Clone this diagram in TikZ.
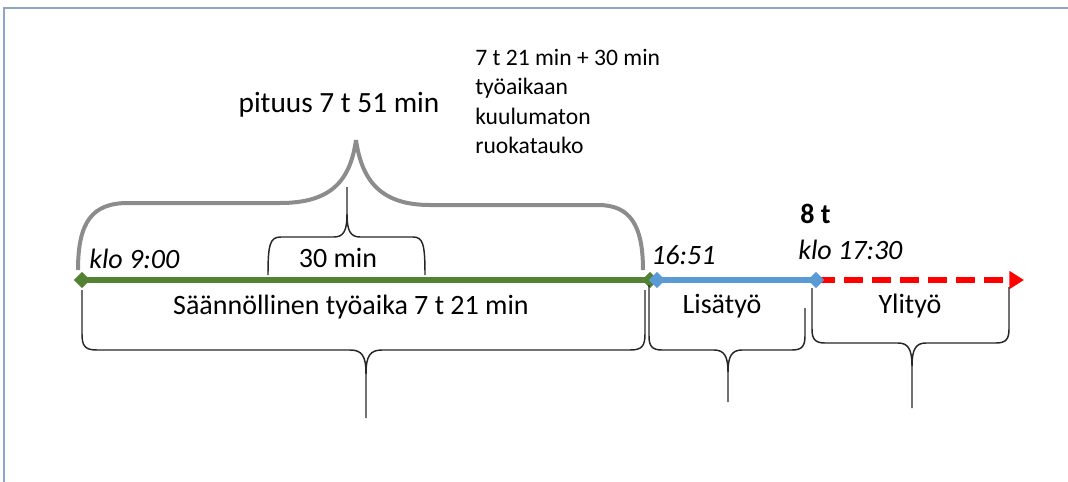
\documentclass[tikz,border=0pt]{standalone}
\usepackage{fontspec}
\setmainfont{Carlito}
\usetikzlibrary{shapes.geometric,arrows.meta}
\definecolor{frameblue}{HTML}{8EA6C6}
\definecolor{lgreen}{HTML}{548235}
\definecolor{lblue}{HTML}{5B9BD5}
\definecolor{bgray}{HTML}{8C8C8C}
\tikzset{
  brace/.style={draw=black!85, line width=1.1pt},
  gbrace/.style={draw=bgray, line width=3pt},
  lbl/.style={font=\fontsize{21}{24}\selectfont, inner sep=0pt},
  tlbl/.style={font=\fontsize{21}{24}\selectfont\itshape, inner sep=0pt},
  dia/.style={diamond, inner sep=0pt, minimum size=12.5pt},
}
\begin{document}
\begin{tikzpicture}[x=0.75pt,y=-0.75pt]
\useasboundingbox (0,0) rectangle (1068,482);
\draw[frameblue, line width=0.8pt] (4,482) -- (4,8) -- (1068,8);

% timeline points
\coordinate (a) at (82,280);
\coordinate (b) at (650,280);
\coordinate (c) at (657,280);
\coordinate (d) at (816,280);
\coordinate (e) at (1024,280);

\draw[lgreen, line width=3.8pt] (a) -- (b);
\draw[lblue, line width=3.8pt] (c) -- (d);
\draw[red, line width=3.8pt, dash pattern=on 14pt off 7pt, -{Triangle[length=11pt,width=13pt]}] (d) -- (e);
\node[dia, fill=lgreen] (na) at (a) {};
\node[dia, fill=lgreen] (nb) at (b) {};
\node[dia, fill=lblue] (nc) at (c) {};
\node[dia, fill=lblue] (nd) at (d) {};

% gray top brace
\draw[gbrace] (78,270) .. controls (78,222) and (92,203) .. (128,203) -- (280,203) .. controls (330,203) and (350,182) .. (356,140);
\draw[gbrace] (356,140) .. controls (362,182) and (382,205) .. (430,205) -- (598,205) .. controls (630,205) and (643,225) .. (643,270);

% 30 min brace
\draw[brace] (268,275) .. controls (268,244) and (270,237) .. (281,237) -- (334,237) .. controls (344,237) and (347,230) .. (347,214) -- (347,187);
\draw[brace] (347,214) .. controls (347,230) and (350,237) .. (360,237) -- (413,237) .. controls (423,237) and (425,244) .. (425,275);

% big bottom brace
\draw[brace] (82,290) -- (82,334) .. controls (82,346) and (85,350) .. (97,350) -- (350,350) .. controls (362,350) and (366,356) .. (366,374) -- (366,418);
\draw[brace] (366,374) .. controls (366,356) and (370,350) .. (382,350) -- (630,350) .. controls (642,350) and (645,346) .. (645,334) -- (645,290);

% Lisatyo brace
\draw[brace] (649,285) -- (649,336) .. controls (649,346) and (652,350) .. (662,350) -- (714,350) .. controls (724,350) and (728,356) .. (728,372) -- (728,402);
\draw[brace] (728,372) .. controls (728,356) and (732,350) .. (742,350) -- (792,350) .. controls (802,350) and (805,346) .. (805,336) -- (805,308);

% Ylityo brace
\draw[brace] (812,288) -- (812,329) .. controls (812,339) and (815,343) .. (825,343) -- (898,343) .. controls (908,343) and (912,349) .. (912,366) -- (912,408);
\draw[brace] (912,366) .. controls (912,349) and (916,343) .. (926,343) -- (996,343) .. controls (1006,343) and (1009,339) .. (1009,329) -- (1009,287);

% labels
\node[tlbl, anchor=west] (t1) at (89,259) {klo 9:00};
\node[tlbl, anchor=west] (t2) at (651,255) {16:51};
\node[tlbl, anchor=west] (t3) at (798,250) {klo 17:30};
\node[lbl, anchor=west, font=\fontsize{21}{24}\selectfont\bfseries] (t4) at (800,214) {8 t};
\node[lbl] (l1) at (338,258) {30 min};
\node[lbl] (l2) at (351,307) {Säännöllinen työaika 7 t 21 min};
\node[lbl] (l3) at (722,306) {Lisätyö};
\node[lbl] (l4) at (910,306) {Ylityö};
\node[lbl, font=\fontsize{22}{26}\selectfont] (l5) at (339,105) {pituus 7 t 51 min};
\node[lbl, anchor=north west, align=left, font=\fontsize{17.7}{22}\selectfont] (l6) at (475,49) {7 t 21 min + 30 min\\työaikaan\\kuulumaton\\ruokatauko};
\end{tikzpicture}
\end{document}
